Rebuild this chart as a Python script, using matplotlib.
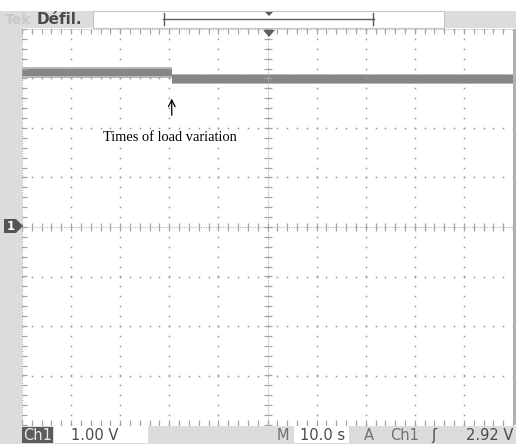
import matplotlib
matplotlib.use('Agg')
import matplotlib.pyplot as plt
import matplotlib.patches as patches
import numpy as np

# Ch1 capture, 10 s/div, 1 V/div (time relative to trigger, volts)
time_s = [-50.0, -19.5, -19.5, 50.0]
volts = [3.12, 3.12, 2.99, 2.99]
noise_half = 0.075         # half height of the noisy trace band (V)
event_time = -19.5         # load variation instant
label_text = 'Times of load variation'

ch_scale = '1.00 V'
time_scale = '10.0 s'
trig_level = '2.92 V'

W, H = 516, 444
fig = plt.figure(figsize=(W / 100, H / 100), dpi=100)
fig.patch.set_facecolor('white')

# graticule area in pixels
gx0, gx1, gy0, gy1 = 22, 513, 29, 425
ax = fig.add_axes([gx0 / W, 1 - gy1 / H, (gx1 - gx0) / W, (gy1 - gy0) / H], zorder=1)
ax.set_xlim(-50, 50)
ax.set_ylim(-4, 4)
ax.set_facecolor('white')
for s in ax.spines.values():
    s.set_visible(False)
ax.set_xticks([])
ax.set_yticks([])

gcol = '#959595'
# dotted division lines
minor_y = np.arange(-4, 4.01, 0.2)
minor_x = np.arange(-50, 50.01, 2)
for xv in np.arange(-40, 41, 10):
    if xv != 0:
        ax.plot(np.full_like(minor_y, xv), minor_y, 's', ms=1.1, color=gcol, mew=0)
for yv in np.arange(-3, 4, 1):
    if yv != 0:
        ax.plot(minor_x, np.full_like(minor_x, yv), 's', ms=1.1, color=gcol, mew=0)

# centre cross and border with fine dots and ticks
fine = dict(ls=(0, (1, 1.2)), lw=0.8, color='#b0b0b0')
tick = '#a4a4a4'
ax.axhline(0, **fine)
ax.axvline(0, **fine)
ax.axhline(-4, **fine)
ax.axhline(4, **fine)
ax.axvline(-50, **fine)
ax.plot(minor_x, np.zeros_like(minor_x), '|', ms=6, mew=0.9, color=tick)
ax.plot(np.zeros_like(minor_y), minor_y, '_', ms=6, mew=0.9, color=tick)
ax.plot(minor_x, np.full_like(minor_x, 4), '|', ms=7, mew=0.9, color=tick)
ax.plot(minor_x, np.full_like(minor_x, -4), '|', ms=7, mew=0.9, color=tick)
ax.plot(np.full_like(minor_y, -50), minor_y, '_', ms=7, mew=0.9, color=tick)

# noisy trace drawn as a band around the measured levels
t = np.array(time_s)
v = np.array(volts)
ax.fill_between(t, v - noise_half * 1.45, v + noise_half * 1.45, color='#b8b8b8', lw=0)
ax.fill_between(t, v - noise_half, v + noise_half, color='#868686', lw=0)

ax.annotate('', xy=(event_time, 2.65), xytext=(event_time, 2.2),
            arrowprops=dict(arrowstyle='->', lw=0.9, color='black',
                            mutation_scale=12))
ax.text(-33.6, 1.8, label_text, fontsize=10.4, family='Liberation Serif',
        ha='left', va='center', color='black')

# instrument chrome in pixel coordinates
ov = fig.add_axes([0, 0, 1, 1], zorder=2)
ov.set_xlim(0, W)
ov.set_ylim(H, 0)
ov.axis('off')
ov.patch.set_alpha(0)

panel = '#dcdcdc'
dark = '#4a4a4a'
ov.add_patch(patches.Rectangle((0, 11), gx0, H - 11, color=panel, lw=0))
ov.add_patch(patches.Rectangle((0, 11), 93, 17, color=panel, lw=0))
ov.add_patch(patches.Rectangle((444, 11), W - 444, 17, color=panel, lw=0))
ov.add_patch(patches.Rectangle((93, 11), 351, 17, facecolor='white',
                               edgecolor='#c4c4c4', lw=0.8))
ov.add_patch(patches.Rectangle((0, 426), W, H - 426, color=panel, lw=0))
ov.add_patch(patches.Rectangle((gx1, gy0), W - gx1, gy1 - gy0, color='#b0b0b0', lw=0))

ov.text(5, 19.5, 'Tek', fontsize=10, fontweight='bold', color='#c9c9c9', va='center')
ov.text(37, 19.5, 'Défil.', fontsize=11, fontweight='semibold', color=dark, va='center')

# record position bracket
ov.plot([163, 374], [19, 19], color='#5a5a5a', lw=1)
ov.plot([164, 164], [13, 25], color='#5a5a5a', lw=1)
ov.plot([373, 373], [13, 25], color='#5a5a5a', lw=1)
ov.add_patch(patches.Polygon([(265, 12), (273, 12), (269, 16)], color='#5a5a5a', lw=0))

# trigger position and ground markers
ov.add_patch(patches.Polygon([(263, 30), (275, 30), (269, 37)], color='#606060', lw=0))
ov.add_patch(patches.Polygon([(4, 219), (16, 219), (23, 226), (16, 233), (4, 233)],
                             color='#555555', lw=0))
ov.text(10.5, 226, '1', fontsize=8.5, fontweight='bold', color='white',
        ha='center', va='center')

# bottom readout
ov.add_patch(patches.Rectangle((22, 427), 31, 16, color='#5c5c5c', lw=0))
ov.text(37.5, 435, 'Ch1', fontsize=10.5, color='#e8e8e8', ha='center', va='center')
ov.add_patch(patches.Rectangle((54, 426), 94, 17, color='white', lw=0))
ov.text(71, 435, ch_scale, fontsize=10.5, color=dark, va='center')
ov.text(283, 435, 'M', fontsize=10.5, color='#707070', ha='center', va='center')
ov.add_patch(patches.Rectangle((294, 426), 55, 17, color='white', lw=0))
ov.text(300, 435, time_scale, fontsize=10.5, color=dark, va='center')
ov.text(369, 435, 'A', fontsize=10.5, color='#707070', ha='center', va='center')
ov.text(405, 435, 'Ch1', fontsize=10.5, color='#707070', ha='center', va='center')
ov.text(434, 435, 'ʃ', fontsize=10.5, color=dark, ha='center', va='center')
ov.text(513, 435, trig_level, fontsize=10.5, color=dark, ha='right', va='center')

fig.savefig('out.png', dpi=100)
